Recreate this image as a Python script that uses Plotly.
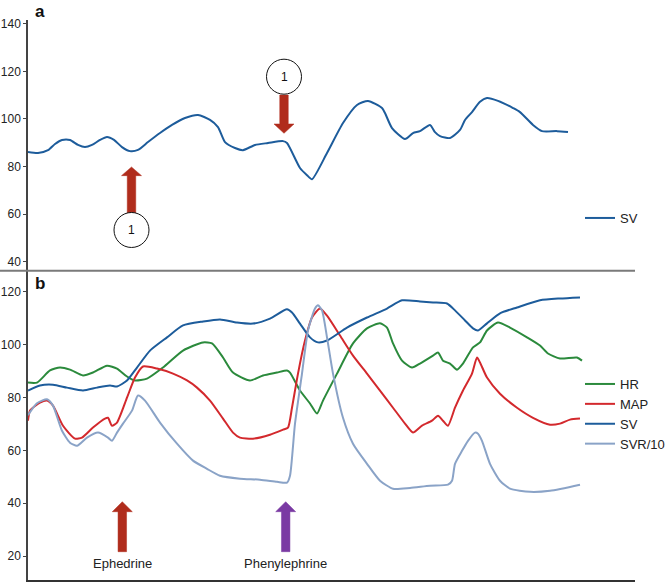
import plotly.graph_objects as go
from plotly.subplots import make_subplots

# ---------------- data (time in arbitrary units) ----------------
# Panel a: SV
sv_a_t = [0, 10, 20, 27, 34, 42, 50, 57, 64, 72, 79, 86, 94, 102, 110, 120, 132, 144, 157, 170,
          182, 190, 197, 207, 215, 227, 240, 255, 259, 272, 279, 284, 299, 315, 329, 340, 354, 357,
          364, 377, 385, 392, 402, 407, 412, 422, 432, 437, 444, 452, 459, 470, 485, 492, 505, 514,
          529, 540]
sv_a_v = [86.1, 85.7, 86.9, 89.5, 91.2, 91.2, 89.1, 88.2, 89.1, 91.2, 92.4, 91.2, 88.2, 86.5, 87.0,
          90.3, 94.1, 97.5, 100.4, 101.7, 99.6, 96.6, 90.3, 87.8, 86.9, 89.1, 89.9, 90.7, 89.9, 79.4,
          76.4, 74.7, 85.7, 98.3, 105.9, 107.6, 104.6, 102.5, 96.2, 91.6, 94.1, 94.9, 97.5, 94.5,
          92.8, 92.0, 95.4, 99.6, 102.9, 107.2, 108.8, 107.6, 104.6, 102.9, 97.5, 94.9, 94.9, 94.5]

# Panel b
hr_t = [0, 9, 22, 32, 42, 55, 65, 79, 89, 99, 107, 119, 135, 155, 175, 184, 195, 205, 222, 235,
        249, 259, 262, 272, 282, 289, 295, 309, 325, 339, 352, 359, 365, 374, 384, 392, 405, 410,
        415, 422, 429, 435, 445, 452, 459, 470, 482, 499, 512, 520, 532, 549, 554]
hr_v = [85.6, 85.6, 90.2, 91.3, 90.5, 88.3, 89.4, 92.0, 90.9, 87.9, 86.4, 87.1, 91.3, 97.7, 100.8,
        100.4, 95.1, 89.4, 86.4, 88.3, 89.4, 90.2, 89.4, 82.6, 77.7, 73.9, 78.8, 89.0, 100.4, 106.1,
        108.0, 106.4, 100.4, 93.9, 91.3, 92.8, 95.8, 97.0, 93.9, 92.8, 90.5, 92.8, 98.9, 100.8,
        105.3, 108.3, 106.4, 102.7, 99.6, 96.6, 94.7, 95.1, 93.9]

map_t = [0, 2, 12, 19, 25, 35, 47, 54, 65, 77, 80, 84, 89, 99, 107, 115, 129, 145, 159, 169, 182,
         195, 205, 212, 225, 242, 255, 260, 264, 270, 277, 284, 292, 299, 312, 325, 339, 352, 365,
         377, 385, 394, 404, 410, 415, 420, 427, 435, 444, 449, 452, 459, 472, 489, 505, 522, 532,
         542, 552]
map_v = [71.2, 75.0, 78.0, 78.8, 76.9, 69.3, 64.4, 64.8, 68.6, 72.0, 72.3, 69.3, 70.5, 79.9, 87.5,
         91.7, 90.9, 89.0, 86.4, 83.7, 78.8, 72.0, 66.7, 64.8, 64.4, 65.9, 67.8, 68.6, 76.1, 89.0,
         101.5, 110.2, 113.6, 110.9, 103.4, 95.8, 89.0, 82.6, 76.1, 70.1, 66.7, 69.3, 71.2, 73.1,
         71.2, 69.3, 76.1, 82.6, 89.0, 95.1, 93.2, 87.5, 81.4, 76.1, 72.3, 69.7, 70.1, 71.6, 72.0]

sv_b_t = [0, 12, 25, 39, 55, 69, 82, 89, 99, 109, 122, 139, 155, 175, 192, 209, 225, 242, 259, 264,
          272, 282, 290, 299, 319, 339, 359, 374, 392, 405, 419, 427, 437, 445, 450, 459, 472, 489,
          512, 532, 552]
sv_b_v = [82.6, 84.5, 84.8, 83.7, 82.6, 83.7, 84.5, 84.1, 86.4, 91.3, 97.7, 102.7, 107.2, 108.7,
          109.5, 108.3, 107.9, 109.8, 113.3, 112.1, 107.9, 102.7, 100.8, 101.5, 106.4, 110.2, 113.6,
          116.7, 116.3, 115.9, 115.5, 112.9, 109.1, 106.1, 105.3, 108.0, 111.8, 114.0, 116.7, 117.4,
          117.8]

svr_t = [0, 9, 19, 25, 34, 42, 49, 59, 70, 80, 84, 89, 95, 104, 110, 117, 132, 149, 165, 179, 192,
         212, 232, 249, 259, 262, 267, 274, 280, 287, 290, 294, 299, 305, 315, 325, 339, 352, 365,
         382, 402, 420, 424, 427, 434, 440, 447, 450, 454, 462, 472, 482, 502, 522, 552]
svr_v = [73.3, 77.8, 79.3, 76.9, 67.4, 62.9, 61.7, 64.8, 66.7, 64.8, 63.6, 66.7, 70.1, 75.0, 80.7,
         78.8, 70.5, 62.5, 56.1, 53.0, 50.4, 49.3, 48.9, 48.1, 47.8, 50.4, 70.1, 89.0, 105.3, 113.6,
         114.8, 112.9, 102.7, 89.0, 72.3, 62.5, 54.9, 48.5, 45.5, 45.8, 46.6, 47.0, 48.5, 54.9, 59.8,
         63.6, 66.7, 66.3, 63.6, 54.9, 48.5, 45.5, 44.3, 44.7, 47.0]

# ---------------- styles ----------------
C_SV = "#1d5c9b"
C_HR = "#2b8a3c"
C_MAP = "#d3292d"
C_SVR = "#8aa3c7"
C_RED_ARROW = "#b02c1c"
C_PURPLE_ARROW = "#7a3aa3"
FONT = "Liberation Sans, Arial, sans-serif"

W, H = 672, 582
ML, MR, MT, MB = 28, 37, 20, 2
SPLIT = (H - MB - 270.7) / (H - MT - MB)

fig = make_subplots(rows=2, cols=1, shared_xaxes=False, vertical_spacing=0)

line_kw = dict(shape="spline", smoothing=0.6, width=2)

fig.add_trace(go.Scatter(x=sv_a_t, y=sv_a_v, mode="lines", name="SV",
                         line=dict(color=C_SV, **line_kw), legend="legend2"), row=1, col=1)
fig.add_trace(go.Scatter(x=hr_t, y=hr_v, mode="lines", name="HR",
                         line=dict(color=C_HR, **line_kw)), row=2, col=1)
fig.add_trace(go.Scatter(x=map_t, y=map_v, mode="lines", name="MAP",
                         line=dict(color=C_MAP, **line_kw)), row=2, col=1)
fig.add_trace(go.Scatter(x=sv_b_t, y=sv_b_v, mode="lines", name="SV",
                         line=dict(color=C_SV, **line_kw)), row=2, col=1)
fig.add_trace(go.Scatter(x=svr_t, y=svr_v, mode="lines", name="SVR/10",
                         line=dict(color=C_SVR, **line_kw)), row=2, col=1)

XR = [0, W - ML - MR]
axis_common = dict(showgrid=False, zeroline=False, automargin=False)
fig.update_xaxes(range=XR, showticklabels=False, ticks="", **axis_common)
fig.update_xaxes(showline=False, row=1, col=1)
fig.update_xaxes(showline=True, linecolor="#333333", linewidth=1.5, row=2, col=1)
yaxis_style = dict(showline=True, linecolor="#444444", linewidth=1.5, ticks="outside",
                   ticklen=3, tickcolor="#444444", tickwidth=1,
                   tickfont=dict(family=FONT, size=12, color="#222222"), **axis_common)
fig.update_yaxes(range=[36.25, 141.6], tickvals=[40, 60, 80, 100, 120, 140], row=1, col=1,
                 **yaxis_style)
fig.update_yaxes(range=[10.98, 127.9], tickvals=[20, 40, 60, 80, 100, 120], row=2, col=1,
                 **yaxis_style)
fig.update_layout(yaxis=dict(domain=[SPLIT, 1]), yaxis2=dict(domain=[0, SPLIT]))

# separator / top panel x-axis line extending to the left edge
shapes = [dict(type="line", xref="paper", yref="paper", x0=-ML / XR[1], x1=1, y0=SPLIT, y1=SPLIT,
               line=dict(color="#7a7a7a", width=2))]


def up_arrow(xref, yref, cx, tip, base, bottom, color, hw=10, sw=4.25):
    p = (f"M {cx - sw},{bottom} L {cx - sw},{base} L {cx - hw},{base} L {cx},{tip} "
         f"L {cx + hw},{base} L {cx + sw},{base} L {cx + sw},{bottom} Z")
    return dict(type="path", xref=xref, yref=yref, path=p, fillcolor=color,
                line=dict(color=color, width=0.5))


def circle(xref, yref, cx, cy, rx, ry):
    return dict(type="circle", xref=xref, yref=yref, x0=cx - rx, x1=cx + rx, y0=cy - ry,
                y1=cy + ry, line=dict(color="#111111", width=1), fillcolor="white")


ky = 20 / 47.6  # top panel value per pixel
# panel a markers
shapes.append(up_arrow("x", "y", 103.5, 79.83, 76.2, 60.5, C_RED_ARROW))
shapes.append(circle("x", "y", 103.5, 53.36, 17.5, 17.5 * ky))
# down arrow (tip below base)
shapes.append(up_arrow("x", "y", 256, 93.99, 97.9, 110.08, C_RED_ARROW))
shapes.append(circle("x", "y", 256, 117.78, 17.5, 17.5 * ky))
# panel b markers
shapes.append(up_arrow("x2", "y2", 94.3, 40.58, 36.8, 21.68, C_RED_ARROW))
shapes.append(up_arrow("x2", "y2", 257.7, 40.58, 36.8, 21.68, C_PURPLE_ARROW))

annotations = [
    dict(text="<b>a</b>", xref="paper", yref="paper", x=12 / XR[1], y=(H - MB - 11) / (H - MT - MB),
         showarrow=False, font=dict(family=FONT, size=17, color="#111111"), xanchor="center",
         yanchor="middle"),
    dict(text="<b>b</b>", xref="paper", yref="paper", x=12 / XR[1], y=(H - MB - 283) / (H - MT - MB),
         showarrow=False, font=dict(family=FONT, size=17, color="#111111"), xanchor="center",
         yanchor="middle"),
    dict(text="1", xref="x", yref="y", x=103.5, y=53.36, showarrow=False,
         font=dict(family=FONT, size=12, color="#111111")),
    dict(text="1", xref="x", yref="y", x=256, y=117.78, showarrow=False,
         font=dict(family=FONT, size=12, color="#111111")),
    dict(text="Ephedrine", xref="x2", yref="y2", x=94.3, y=17.4, showarrow=False,
         font=dict(family=FONT, size=13, color="#222222")),
    dict(text="Phenylephrine", xref="x2", yref="y2", x=257.7, y=17.4, showarrow=False,
         font=dict(family=FONT, size=13, color="#222222")),
]

legend_font = dict(family=FONT, size=13, color="#222222")
fig.update_layout(
    width=W, height=H,
    margin=dict(l=ML, r=MR, t=MT, b=MB, autoexpand=False),
    paper_bgcolor="white", plot_bgcolor="white",
    shapes=shapes, annotations=annotations,
    showlegend=True,
    legend=dict(x=(580 - ML) / XR[1], y=(H - MB - 414) / (H - MT - MB), xanchor="left",
                yanchor="middle", font=legend_font, bgcolor="rgba(0,0,0,0)", tracegroupgap=0),
    legend2=dict(x=(580 - ML) / XR[1], y=(H - MB - 218) / (H - MT - MB), xanchor="left",
                 yanchor="middle", font=legend_font, bgcolor="rgba(0,0,0,0)"),
    hovermode=False,
)

# remove the browser's default page margin so the figure starts at the window corner
fig.write_html("out.html", config={"displayModeBar": False},
               post_script="document.body.style.margin='0';")
